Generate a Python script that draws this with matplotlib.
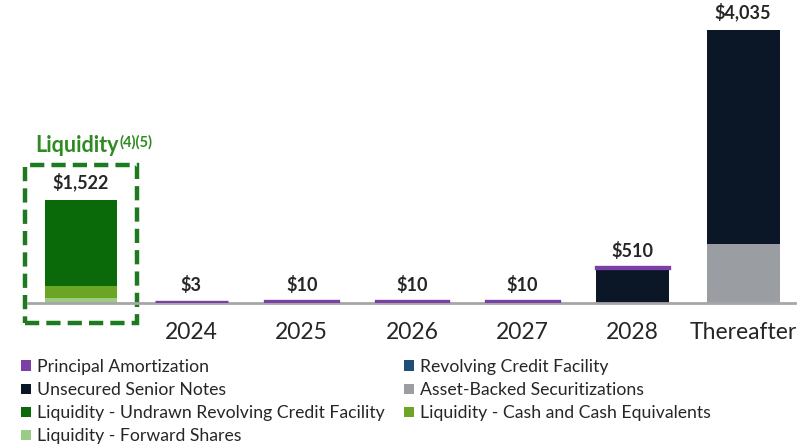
import numpy as np
import matplotlib
matplotlib.use("Agg")
import matplotlib.pyplot as plt
from matplotlib.patches import Rectangle

plt.rcParams['font.family'] = ['Lato', 'DejaVu Sans']

categories = ["", "2024", "2025", "2026", "2027", "2028", "Thereafter"]
principal = [0, 3, 10, 10, 10, 10, 0]
revolver = [0, 0, 0, 0, 0, 0, 0]
unsecured = [0, 0, 0, 0, 0, 500, 3165]
abs_sec = [0, 0, 0, 0, 0, 0, 870]
liq_forward = [80, 0, 0, 0, 0, 0, 0]
liq_cash = [170, 0, 0, 0, 0, 0, 0]
liq_undrawn = [1272, 0, 0, 0, 0, 0, 0]
totals = ["$1,522", "$3", "$10", "$10", "$10", "$510", "$4,035"]

# stacking order bottom -> top
series = [
    ("Liquidity - Forward Shares", liq_forward, "#9CCB86"),
    ("Liquidity - Cash and Cash Equivalents", liq_cash, "#6CA424"),
    ("Liquidity - Undrawn Revolving Credit Facility", liq_undrawn, "#0A6A0A"),
    ("Asset-Backed Securitizations", abs_sec, "#9A9DA2"),
    ("Unsecured Senior Notes", unsecured, "#0B1726"),
    ("Revolving Credit Facility", revolver, "#1F4E79"),
    ("Principal Amortization", principal, "#7B3FA8"),
]

fig = plt.figure(figsize=(8.09, 4.46), dpi=100)
ax = fig.add_axes([28 / 809, (446 - 303) / 446, 767 / 809, 293 / 446])

x = np.arange(len(categories))
w = 0.66
bottom = np.zeros(len(categories))
handles = {}
for name, vals, col in series:
    vals = np.array(vals, dtype=float)
    if name == "Principal Amortization":
        # thin amortization strips get a visible minimum thickness
        b = ax.bar(x, vals, w, bottom=bottom + 15, color=col, edgecolor=col,
                   linewidth=np.where(vals > 0, 2.4, 0), zorder=3)
    else:
        b = ax.bar(x, vals, w, bottom=bottom, color=col, linewidth=0)
    handles[name] = b
    bottom += vals

for xi, top, lab in zip(x, bottom, totals):
    ax.annotate(lab, (xi, top), xytext=(0, 6), textcoords="offset points",
                ha="center", va="bottom", fontsize=13, fontweight="bold",
                color="#262626")

# dashed liquidity box
box = Rectangle((-0.51, -296), 1.02, 2336, fill=False, edgecolor="#1E7A1E",
                linewidth=3.2, linestyle=(0, (3.2, 1.6)), clip_on=False)
ax.add_patch(box)
t = ax.text(-0.41, 2230, "Liquidity", fontsize=15.5, fontweight="bold",
            color="#2E8B22", ha="left", va="baseline")
ax.annotate("(4)(5)", xy=(1, 1), xycoords=t, ha="left", va="top",
            fontsize=10.5, fontweight="bold", color="#2E8B22")

ax.set_xlim(-0.48, 6.47)
ax.set_ylim(0, 4331)
ax.set_xticks(x)
ax.set_xticklabels(categories, fontsize=16.5, color="#262626")
ax.tick_params(axis="x", length=0, pad=14)
ax.set_yticks([])
for s in ["top", "right", "left"]:
    ax.spines[s].set_visible(False)
ax.spines["bottom"].set_color("#A6A6A6")
ax.spines["bottom"].set_linewidth(2)

order = ["Principal Amortization", "Unsecured Senior Notes",
         "Liquidity - Undrawn Revolving Credit Facility", "Liquidity - Forward Shares",
         "Revolving Credit Facility", "Asset-Backed Securitizations",
         "Liquidity - Cash and Cash Equivalents"]
leg = fig.legend([handles[n] for n in order], order, ncol=2, loc="upper left",
                 bbox_to_anchor=(21 / 809, 1 - 359 / 446), frameon=False,
                 fontsize=12.7, handlelength=0.55, handleheight=0.55,
                 handletextpad=0.35, columnspacing=1.1, labelspacing=0.4,
                 borderpad=0, borderaxespad=0)
for txt in leg.get_texts():
    txt.set_color("#262626")

fig.savefig("out.png", dpi=100)
